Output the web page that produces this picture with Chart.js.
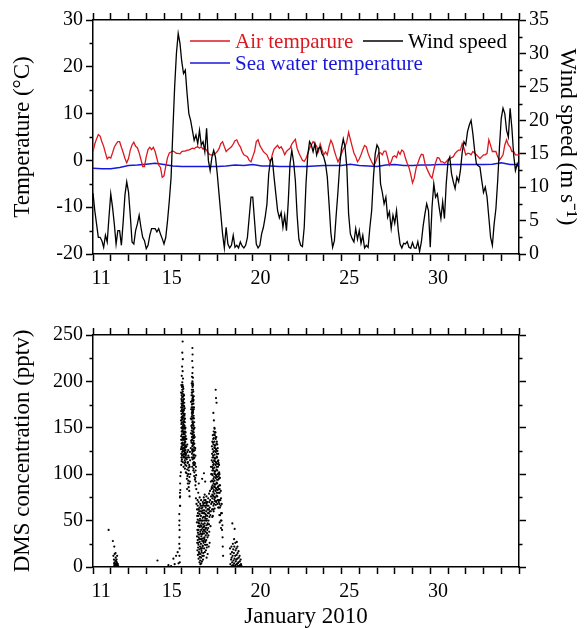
<!DOCTYPE html>
<html>
<head>
<meta charset="utf-8">
<script src="https://cdn.jsdelivr.net/npm/chart.js@4.4.1/dist/chart.umd.min.js"></script>
<style>
  html, body { margin: 0; padding: 0; background: #fff; }
  #wrap { position: relative; width: 588px; height: 628px; }
  canvas { position: absolute; left: 0; }
  #top { top: 0; }
  #bottom { top: 290px; }
</style>
</head>
<body>
<div id="wrap">
  <canvas id="top" width="588" height="290"></canvas>
  <canvas id="bottom" width="588" height="338"></canvas>
</div>
<script>
// day of January 2010; series sampled every 0.1 day from day 10
const dayLabels = [11, 15, 20, 25, 30];
const sampleStart = 10;
const sampleStep = 0.1;

// wind speed (m/s)
const windSpeed = [
  9.1, 6.5, 4.5, 2.5, 2.5, 2.0, 1.0, 2.8, 1.8, 5.5,
  9.0, 7.0, 4.5, 1.5, 3.5, 3.5, 1.3, 4.8, 8.8, 10.8,
  9.3, 5.8, 1.8, 1.5, 3.5, 4.5, 5.8, 4.0, 2.5, 2.0,
  0.8, 1.3, 2.8, 3.8, 3.8, 3.8, 3.3, 3.8, 3.0, 2.3,
  1.5, 2.5, 5.0, 8.0, 11.5, 18.5, 25.0, 30.0, 33.0, 31.5,
  28.8, 27.0, 27.5, 24.0, 21.0, 20.0, 18.5, 17.0, 17.8, 16.5,
  18.5, 16.3, 16.8, 15.3, 18.8, 14.0, 12.5, 14.5, 15.5, 14.5,
  12.0, 9.0, 6.0, 3.0, 0.9, 4.0, 1.5, 0.9, 1.3, 2.8,
  1.0, 1.3, 0.9, 1.8, 1.2, 0.9, 1.3, 2.5, 5.5, 8.5,
  8.5, 5.0, 1.5, 0.9, 1.3, 3.0, 4.0, 5.5, 7.5, 12.0,
  14.0, 14.3, 11.5, 9.0, 6.5, 5.4, 6.2, 4.0, 5.8, 3.5,
  7.8, 13.5, 15.5, 13.8, 11.0, 5.8, 2.2, 1.3, 1.1, 4.0,
  10.5, 14.8, 16.8, 16.3, 15.3, 16.5, 14.8, 15.8, 16.0, 15.0,
  14.5, 13.5, 11.5, 7.5, 3.2, 1.0, 2.0, 5.8, 9.3, 13.3,
  15.8, 17.2, 16.0, 13.0, 6.0, 3.0, 2.3, 1.8, 3.8, 2.2,
  3.5, 1.6, 2.8, 0.9, 1.3, 1.0, 4.0, 6.5, 11.5, 15.0,
  16.3, 15.8, 10.5, 9.2, 7.5, 8.5, 5.5, 6.3, 3.8, 5.8,
  4.6, 6.5, 3.5, 1.5, 0.9, 1.6, 1.5, 1.85, 1.0, 0.85,
  1.7, 0.9, 0.85, 1.85, 0.4, 1.8, 4.2, 6.0, 7.5, 6.5,
  1.0, 7.0, 10.5, 8.5, 9.0, 7.0, 5.3, 7.8, 5.3, 10.5,
  13.8, 14.5, 12.0, 10.8, 9.8, 11.5, 10.8, 12.5, 15.2, 16.8,
  16.3, 18.3, 19.3, 20.0, 18.0, 15.5, 13.5, 13.2, 13.0, 11.0,
  9.2, 10.0, 8.5, 5.5, 2.5, 1.3, 4.5, 6.8, 11.0, 16.0,
  20.3, 21.8, 21.0, 18.5, 17.5, 21.8, 18.8, 14.8, 12.5, 13.5,
  12.8
];

// air temperature (degC)
const airTemp = [
  1.9, 3.5, 4.6, 5.5, 5.2, 4.0, 3.0, 1.6, 0.3, 0.7,
  0.5, 1.6, 2.8, 3.5, 4.0, 4.0, 2.8, 1.7, 0.4, -0.5,
  0.4, 2.2, 3.3, 3.9, 3.0, 2.7, 1.6, 0.2, -1.3, -1.3,
  0.8, 2.3, 2.8, 2.3, 2.8, 1.9, 0.4, -1.0, -1.5, -3.6,
  -3.3, -1.2, 0.6, 1.6, 1.8, 2.0, 1.8, 1.5, 1.5, 1.4,
  1.9, 2.0, 2.0, 2.2, 2.2, 2.4, 2.6, 2.5, 2.8, 2.9,
  2.6, 2.9, 2.4, 2.6, 2.2, 1.5, 1.2, 1.2, 1.2, 1.5,
  1.9, 2.5, 3.6, 4.0, 2.9, 1.9, 2.3, 2.6, 2.9, 3.5,
  4.2, 4.4, 3.5, 2.9, 1.9, 1.2, 1.0, 0.8, 0.0, -0.3,
  0.8, 1.9, 4.0, 4.4, 3.2, 2.5, 1.9, 1.5, 1.2, 0.3,
  -0.3, 1.2, 2.4, 2.8, 3.2, 2.6, 2.9, 2.2, 1.2, 1.9,
  2.3, 2.6, 3.5, 4.0, 4.5, 2.6, 1.6, 0.8, 0.0, -0.2,
  0.4, 1.5, 2.6, 3.3, 4.0, 3.6, 3.0, 1.9, 3.5, 2.3,
  1.2, 1.8, 1.2, 3.0, 4.3, 3.5, 2.0, 0.8, -0.3, 0.5,
  1.5, 2.4, 3.0, 4.0, 6.0, 4.5, 3.0, 1.6, 0.8, -0.3,
  0.3, 1.2, 2.3, 3.2, 2.9, 1.5, 0.5, -0.3, -1.0, -0.6,
  0.5, 1.6, 1.6, 1.2, 2.0, 2.0, 0.6, -1.0, -0.3, 0.8,
  1.0, 0.6, 1.9, 1.3, 2.2, 1.9, 0.5, -0.6, -1.5, -3.0,
  -4.8, -3.8, -1.7, -0.6, 0.5, 1.3, 1.2, -0.6, -1.7, -2.5,
  -3.3, -3.8, -2.0, -0.5, 0.6, 0.5, -0.3, -0.3, -0.6, -0.3,
  0.2, 0.4, 0.6, 0.8, 1.5, 1.9, 2.2, 2.2, 3.6, 2.6,
  1.2, 1.5, 1.5, 1.2, 1.9, 1.6, 1.2, 0.8, 0.4, 0.8,
  1.2, 1.2, 1.5, 4.4, 3.2, 1.9, 1.9, 1.9, 0.8, 0.1,
  0.6, 1.2, 3.3, 4.4, 3.3, 2.9, 1.9, 1.9, 1.2, 1.2,
  1.2
];

// sea water temperature (degC), every 0.5 day from day 10
const seaStep = 0.5;
const seaTemp = [
  -1.7, -1.8, -1.8, -1.5, -1.1, -1.0, -0.8, -0.6, -0.9, -1.2,
  -1.3, -1.3, -1.3, -1.3, -1.3, -1.2, -1.0, -1.1, -0.9, -1.2,
  -1.2, -1.3, -1.3, -1.3, -1.3, -1.2, -1.1, -1.1, -1.1, -0.8,
  -1.1, -1.2, -1.3, -1.0, -0.9, -1.1, -1.1, -1.0, -1.0, -0.9,
  -0.9, -0.9, -0.9, -0.85, -0.85, -0.8, -0.5, -0.85, -0.9
];

// DMS concentration (pptv), [day, value]
const dmsEarly = [
  [10.88, 40], [11.12, 28], [11.2, 22], [11.15, 12], [11.18, 8], [11.22, 5], [11.25, 3],
  [11.28, 10], [11.3, 6], [11.32, 2], [11.35, 4], [11.27, 15], [11.24, 1], [11.2, 2],
  [11.33, 8], [11.38, 1], [11.4, 3], [11.42, 1], [11.3, 1], [11.36, 12], [11.26, 7],
  [11.22, 14], [11.19, 4], [11.34, 5], [11.29, 3],
  [13.63, 7], [14.25, 2], [14.53, 9], [14.68, 12], [14.77, 16], [14.82, 4], [14.6, 3], [14.4, 1],
  [14.86, 57], [14.87, 50], [14.86, 45], [14.88, 40], [14.87, 32], [14.86, 25], [14.88, 20],
  [14.87, 12], [14.9, 80], [14.9, 75], [14.89, 5], [14.91, 66]
];
const dmsPeakA = [
  [15.05, 243], [15.03, 231], [15.06, 224], [15.02, 216], [15.05, 211], [15.0, 206], [15.07, 203], [15.03, 199],
  [14.96, 188], [14.98, 181], [14.97, 172], [14.99, 165], [14.96, 158], [14.98, 150], [14.97, 141],
  [14.99, 133], [14.96, 127], [14.98, 118], [14.97, 110], [14.95, 102],
  [15.01, 194], [15.02, 187], [15.0, 179], [15.03, 176], [15.01, 170], [15.02, 162], [15.0, 156],
  [15.03, 149], [15.01, 143], [15.02, 137], [15.0, 130], [15.03, 124], [15.01, 116],
  [15.05, 196], [15.06, 189], [15.04, 183], [15.07, 178], [15.05, 172], [15.06, 166], [15.04, 160],
  [15.07, 153], [15.05, 147], [15.06, 140], [15.04, 134], [15.07, 128], [15.05, 121], [15.06, 113],
  [15.09, 192], [15.1, 186], [15.08, 180], [15.11, 174], [15.09, 168], [15.1, 161], [15.08, 155],
  [15.11, 149], [15.09, 143], [15.1, 137], [15.08, 131], [15.11, 125], [15.09, 118], [15.1, 108],
  [15.13, 185], [15.14, 177], [15.12, 169], [15.15, 163], [15.13, 157], [15.14, 150], [15.12, 144],
  [15.15, 139], [15.13, 132], [15.14, 126], [15.12, 119], [15.15, 112],
  [15.17, 171], [15.18, 160], [15.16, 152], [15.19, 146], [15.17, 140], [15.18, 134], [15.16, 128],
  [15.19, 121], [15.17, 115], [15.18, 106],
  [15.21, 150], [15.22, 141], [15.2, 135], [15.23, 129], [15.21, 123], [15.22, 117], [15.2, 110], [15.23, 102],
  [15.26, 138], [15.27, 130], [15.25, 122], [15.28, 116], [15.26, 109], [15.27, 101], [15.29, 95],
  [15.31, 132], [15.32, 124], [15.3, 118], [15.33, 112], [15.31, 105], [15.32, 98], [15.34, 90], [15.3, 84],
  [15.36, 126], [15.37, 120], [15.35, 113], [15.38, 107], [15.36, 100], [15.37, 93], [15.39, 86],
  [15.41, 118], [15.42, 110], [15.4, 104], [15.43, 97], [15.41, 90], [15.42, 82], [15.44, 76],
  [15.46, 124], [15.47, 115], [15.45, 108], [15.48, 100], [15.46, 92],
  [14.92, 98], [14.91, 90], [14.92, 83], [14.91, 76], [14.9, 66],
  [14.975, 196], [14.995, 185], [14.985, 176], [14.965, 168], [14.985, 161], [14.975, 154], [14.995, 146],
  [14.965, 137], [14.985, 129], [14.975, 122], [14.995, 114],
  [15.025, 191], [15.035, 183], [15.015, 174], [15.045, 168], [15.025, 159], [15.035, 151], [15.015, 146],
  [15.045, 139], [15.025, 133], [15.035, 127], [15.015, 120],
  [15.075, 194], [15.085, 184], [15.065, 176], [15.095, 170], [15.075, 163], [15.085, 157], [15.065, 151],
  [15.095, 145], [15.075, 138], [15.085, 132], [15.065, 125], [15.095, 121],
  [15.125, 181], [15.135, 173], [15.115, 165], [15.145, 159], [15.125, 153], [15.135, 146], [15.115, 140],
  [15.145, 134], [15.125, 128], [15.135, 122],
  [15.165, 165], [15.175, 156], [15.185, 149], [15.165, 143], [15.175, 137], [15.185, 130], [15.165, 124], [15.175, 118],
  [15.215, 145], [15.225, 138], [15.205, 131], [15.215, 126], [15.225, 120], [15.205, 113]
];
const dmsPeakB = [
  [15.6, 236], [15.61, 229], [15.59, 222], [15.62, 215], [15.6, 209], [15.63, 204],
  [15.52, 178], [15.53, 170], [15.51, 160], [15.54, 152], [15.52, 144], [15.53, 136], [15.51, 128],
  [15.56, 198], [15.57, 191], [15.55, 185], [15.58, 179], [15.56, 172], [15.57, 166], [15.55, 159],
  [15.58, 153], [15.56, 147], [15.57, 140], [15.55, 134], [15.58, 126], [15.56, 118],
  [15.6, 200], [15.61, 194], [15.59, 188], [15.62, 182], [15.6, 176], [15.61, 170], [15.59, 164],
  [15.62, 157], [15.6, 150], [15.61, 144], [15.59, 137], [15.62, 131], [15.6, 124], [15.61, 116], [15.59, 108],
  [15.64, 196], [15.65, 189], [15.63, 183], [15.66, 176], [15.64, 168], [15.65, 161], [15.63, 155],
  [15.66, 148], [15.64, 141], [15.65, 134], [15.63, 127], [15.66, 120], [15.64, 112], [15.65, 104],
  [15.68, 184], [15.69, 172], [15.67, 163], [15.7, 156], [15.68, 149], [15.69, 142], [15.67, 136],
  [15.7, 129], [15.68, 121], [15.69, 113], [15.67, 106], [15.7, 98],
  [15.72, 150], [15.73, 140], [15.71, 133], [15.74, 126], [15.72, 118], [15.73, 110], [15.71, 102], [15.74, 94],
  [15.76, 128], [15.77, 120], [15.75, 112], [15.78, 104], [15.76, 96], [15.77, 88],
  [15.8, 108], [15.81, 99], [15.79, 92], [15.82, 84], [15.8, 74], [15.83, 68],
  [15.575, 205], [15.585, 196], [15.565, 188], [15.595, 181], [15.575, 175], [15.585, 168], [15.565, 162],
  [15.595, 156], [15.575, 150], [15.585, 143], [15.565, 137], [15.595, 130], [15.575, 122],
  [15.625, 198], [15.635, 191], [15.615, 185], [15.645, 179], [15.625, 172], [15.635, 166], [15.615, 160],
  [15.645, 153], [15.625, 146], [15.635, 139], [15.615, 133], [15.645, 125], [15.625, 118],
  [15.665, 180], [15.675, 170], [15.685, 160], [15.665, 152], [15.675, 145], [15.685, 139], [15.665, 132],
  [15.675, 125], [15.685, 117], [15.665, 110]
];
const dmsLow = [
  [15.86, 62], [15.87, 55], [15.85, 48], [15.88, 40], [15.86, 33], [15.87, 26], [15.89, 72], [15.88, 18],
  [15.9, 66], [15.91, 58], [15.9, 51], [15.92, 44], [15.91, 37], [15.9, 29], [15.92, 21], [15.91, 13], [15.93, 80],
  [15.95, 70], [15.96, 62], [15.94, 55], [15.97, 47], [15.95, 40], [15.96, 32], [15.94, 24], [15.97, 16], [15.95, 9], [15.96, 90],
  [16.0, 64], [16.01, 57], [15.99, 50], [16.02, 43], [16.0, 35], [16.01, 27], [15.99, 19], [16.02, 11], [16.0, 5], [16.01, 75],
  [16.04, 68], [16.05, 60], [16.03, 52], [16.06, 45], [16.04, 38], [16.05, 30], [16.03, 22], [16.06, 14], [16.04, 7], [16.05, 3],
  [16.09, 72], [16.1, 63], [16.08, 55], [16.11, 47], [16.09, 40], [16.1, 33], [16.08, 25], [16.11, 18], [16.09, 10], [16.1, 4],
  [16.14, 66], [16.15, 58], [16.13, 50], [16.16, 42], [16.14, 35], [16.15, 28], [16.13, 20], [16.16, 12], [16.14, 6], [16.15, 95],
  [16.19, 70], [16.2, 61], [16.18, 53], [16.21, 46], [16.19, 38], [16.2, 31], [16.18, 23], [16.21, 15], [16.2, 8],
  [16.24, 75], [16.25, 66], [16.23, 58], [16.26, 50], [16.24, 43], [16.25, 36], [16.23, 28], [16.26, 20], [16.24, 12], [16.25, 101],
  [16.29, 78], [16.3, 69], [16.28, 61], [16.31, 54], [16.29, 47], [16.3, 40], [16.28, 32], [16.31, 24], [16.3, 16], [16.32, 92],
  [16.34, 72], [16.35, 64], [16.33, 57], [16.36, 50], [16.34, 42], [16.35, 34], [16.33, 27], [16.36, 18],
  [16.39, 76], [16.4, 68], [16.38, 60], [16.41, 52], [16.39, 45], [16.4, 37], [16.38, 29], [16.41, 21], [16.4, 10],
  [16.44, 70], [16.45, 62], [16.43, 55], [16.46, 47], [16.44, 40], [16.45, 32], [16.43, 24], [16.46, 14],
  [16.49, 74], [16.5, 66], [16.48, 58], [16.51, 50], [16.49, 42], [16.5, 34], [16.52, 22],
  [16.54, 79], [16.55, 70], [16.53, 62], [16.56, 54], [16.54, 46], [16.55, 38], [16.57, 26],
  [16.59, 82], [16.6, 72], [16.58, 64], [16.61, 56], [16.62, 44],
  [15.925, 62], [15.935, 48], [15.945, 35], [15.925, 26], [15.985, 60], [15.975, 44], [15.985, 30], [15.975, 14],
  [16.065, 66], [16.075, 50], [16.065, 36], [16.075, 20], [16.125, 60], [16.115, 44], [16.125, 30], [16.115, 16],
  [16.165, 64], [16.175, 50], [16.165, 36], [16.175, 22], [16.215, 68], [16.225, 54], [16.215, 40], [16.225, 26],
  [16.265, 72], [16.275, 58], [16.265, 44], [16.275, 30], [16.315, 66], [16.325, 52], [16.315, 38], [16.325, 28],
  [16.375, 70], [16.365, 56], [16.375, 42], [16.365, 24], [16.425, 66], [16.415, 50], [16.425, 36],
  [16.475, 62], [16.465, 46], [16.525, 58], [16.575, 60]
];
const dmsPeakD = [
  [16.91, 191], [16.93, 182], [16.96, 177], [16.78, 166], [16.81, 158], [16.84, 150],
  [16.65, 108], [16.66, 100], [16.64, 92], [16.67, 84], [16.65, 76], [16.66, 68], [16.64, 60],
  [16.7, 130], [16.71, 122], [16.69, 115], [16.72, 108], [16.7, 100], [16.71, 93], [16.69, 86],
  [16.72, 78], [16.7, 70], [16.71, 62], [16.72, 54],
  [16.75, 142], [16.76, 134], [16.74, 127], [16.77, 120], [16.75, 113], [16.76, 106], [16.74, 99],
  [16.77, 92], [16.75, 85], [16.76, 77], [16.74, 70], [16.77, 62], [16.75, 55],
  [16.8, 146], [16.81, 139], [16.79, 132], [16.82, 125], [16.8, 118], [16.81, 111], [16.79, 104],
  [16.82, 97], [16.8, 90], [16.81, 83], [16.79, 76], [16.82, 68], [16.8, 60],
  [16.85, 149], [16.86, 142], [16.84, 135], [16.87, 128], [16.85, 121], [16.86, 114], [16.84, 107],
  [16.87, 100], [16.85, 93], [16.86, 86], [16.84, 79], [16.87, 71], [16.85, 63],
  [16.9, 145], [16.91, 138], [16.89, 131], [16.92, 124], [16.9, 117], [16.91, 110], [16.89, 103],
  [16.92, 96], [16.9, 89], [16.91, 82], [16.89, 75], [16.92, 67],
  [16.95, 140], [16.96, 133], [16.94, 126], [16.97, 119], [16.95, 112], [16.96, 105], [16.94, 98],
  [16.97, 91], [16.95, 84], [16.96, 77], [16.94, 70],
  [17.0, 132], [17.01, 125], [16.99, 118], [17.02, 111], [17.0, 104], [17.01, 97], [16.99, 90],
  [17.02, 83], [17.0, 76], [17.01, 68],
  [17.05, 122], [17.06, 115], [17.04, 108], [17.07, 101], [17.05, 94], [17.06, 87], [17.04, 80], [17.07, 72], [17.05, 64],
  [17.1, 110], [17.11, 102], [17.09, 95], [17.12, 88], [17.1, 80], [17.11, 72], [17.09, 64], [17.12, 56],
  [17.15, 96], [17.16, 88], [17.14, 80], [17.17, 72], [17.15, 64], [17.16, 56], [17.14, 48],
  [17.2, 82], [17.21, 74], [17.19, 66], [17.22, 58], [17.2, 50], [17.21, 42],
  [17.25, 68], [17.26, 58], [17.24, 50], [17.27, 40], [17.3, 32], [17.31, 22], [17.33, 12], [17.29, 45],
  [16.725, 135], [16.735, 118], [16.725, 104], [16.735, 88], [16.725, 74],
  [16.775, 138], [16.785, 124], [16.775, 110], [16.785, 95], [16.775, 81], [16.785, 66],
  [16.825, 143], [16.835, 129], [16.825, 115], [16.835, 101], [16.825, 87], [16.835, 73],
  [16.875, 145], [16.865, 131], [16.875, 117], [16.865, 103], [16.875, 89], [16.865, 75],
  [16.925, 140], [16.935, 127], [16.925, 113], [16.935, 99], [16.925, 85], [16.935, 71],
  [16.975, 135], [16.985, 122], [16.975, 108], [16.985, 94], [16.975, 80],
  [17.025, 128], [17.035, 114], [17.025, 100], [17.035, 86], [17.025, 72],
  [17.075, 112], [17.085, 98], [17.075, 84], [17.085, 70], [17.125, 100], [17.135, 84], [17.125, 68]
];
const dmsLate = [
  [17.85, 47], [17.98, 41], [18.1, 27], [17.72, 20], [17.75, 14], [17.78, 8], [17.74, 3], [17.8, 22],
  [17.83, 16], [17.81, 10], [17.84, 5], [17.82, 1], [17.88, 25], [17.9, 19], [17.87, 12], [17.91, 7],
  [17.89, 2], [17.95, 30], [17.96, 22], [17.94, 15], [17.97, 9], [17.95, 4], [17.93, 1], [18.02, 26],
  [18.03, 18], [18.01, 12], [18.04, 6], [18.02, 2], [18.08, 20], [18.09, 13], [18.07, 8], [18.1, 3],
  [18.14, 22], [18.15, 15], [18.13, 9], [18.16, 4], [18.14, 1], [18.2, 17], [18.21, 10], [18.19, 5],
  [18.22, 1], [18.26, 12], [18.27, 6], [18.28, 2], [18.32, 8], [18.34, 3], [18.37, 1]
];

const airColor = 'rgb(220, 24, 32)';
const seaColor = 'rgb(24, 24, 220)';
const windColor = '#000';
const serif = "'Liberation Serif', 'Times New Roman', serif";

Chart.defaults.font.family = serif;
Chart.defaults.font.size = 20;
Chart.defaults.color = '#000';

const toSeries = (vals, step) => vals.map((v, i) => ({ x: sampleStart + i * step, y: v }));
const toPoints = list => list.map(p => ({ x: p[0], y: p[1] }));

// short ticks halfway between the labelled ones
const minorTicks = {
  id: 'minorTicks',
  afterDraw(chart, args, opts) {
    const ctx = chart.ctx;
    ctx.save();
    ctx.strokeStyle = '#000';
    ctx.lineWidth = 1.5;
    for (const [id, step] of Object.entries(opts)) {
      const s = chart.scales[id];
      if (!s) continue;
      const left = s.position === 'left';
      const x0 = left ? s.right : s.left;
      for (let v = s.min + step; v < s.max; v += step * 2) {
        const y = Math.round(s.getPixelForValue(v)) + 0.5;
        ctx.beginPath();
        ctx.moveTo(x0, y);
        ctx.lineTo(x0 + (left ? -3.5 : 3.5), y);
        ctx.stroke();
      }
    }
    ctx.restore();
  }
};

// legend laid out as in the figure
const legendBox = {
  id: 'legendBox',
  afterDraw(chart, args, opts) {
    if (!opts.items) return;
    const ctx = chart.ctx;
    const a = chart.chartArea;
    ctx.save();
    ctx.font = '21px ' + serif;
    ctx.textBaseline = 'middle';
    ctx.textAlign = 'left';
    opts.items.forEach(it => {
      const y = a.top + it.dy;
      ctx.strokeStyle = it.color;
      ctx.lineWidth = 1.4;
      ctx.beginPath();
      ctx.moveTo(a.left + it.dx, y);
      ctx.lineTo(a.left + it.dx + 40, y);
      ctx.stroke();
      ctx.fillStyle = it.color;
      ctx.fillText(it.text, a.left + it.dx + 45, y + 1);
    });
    ctx.restore();
  }
};

const frame = { display: true, color: '#000', width: 1.5 };
const tickGrid = { drawOnChartArea: false, color: '#000', tickColor: '#000', tickLength: 7, tickWidth: 1.5 };

function dayAxis(height) {
  return {
    type: 'linear', position: 'bottom', min: 10, max: 34,
    afterFit: s => { s.height = height; },
    border: frame, grid: tickGrid,
    ticks: {
      stepSize: 1, autoSkip: false, maxRotation: 0, align: 'end', padding: 6,
      callback: v => dayLabels.includes(v) ? String(v) : ''
    }
  };
}
function topAxis(height) {
  return {
    type: 'linear', position: 'top', min: 10, max: 34,
    afterFit: s => { s.height = height; },
    border: frame, grid: tickGrid,
    ticks: { stepSize: 1, display: false }
  };
}

const common = {
  responsive: false, animation: false, devicePixelRatio: 1, events: [],
  layout: { padding: 0 }
};

new Chart(document.getElementById('top'), {
  type: 'line',
  data: {
    datasets: [
      { label: 'Wind speed', data: toSeries(windSpeed, sampleStep), yAxisID: 'yw', xAxisID: 'x',
        borderColor: windColor, borderWidth: 1.3, pointRadius: 0, tension: 0 },
      { label: 'Air temparure', data: toSeries(airTemp, sampleStep), yAxisID: 'yt', xAxisID: 'x',
        borderColor: airColor, borderWidth: 1.3, pointRadius: 0, tension: 0 },
      { label: 'Sea water temperature', data: toSeries(seaTemp, seaStep), yAxisID: 'yt', xAxisID: 'x',
        borderColor: seaColor, borderWidth: 1.5, pointRadius: 0, tension: 0 }
    ]
  },
  options: {
    ...common,
    scales: {
      x: dayAxis(36),
      xTop: topAxis(20),
      yt: {
        type: 'linear', position: 'left', min: -20, max: 30,
        afterFit: s => { s.width = 93; },
        border: frame, grid: tickGrid,
        ticks: { stepSize: 10, padding: 3 },
        title: { display: true, text: 'Temperature (°C)', font: { size: 23, lineHeight: 1 }, padding: { top: 11, bottom: 0 } }
      },
      yw: {
        type: 'linear', position: 'right', min: 0, max: 35,
        afterFit: s => { s.width = 69; },
        border: frame, grid: tickGrid,
        ticks: { stepSize: 5, padding: 3 },
        title: { display: true, text: 'Wind speed (m s⁻¹)', font: { size: 23, lineHeight: 1 }, padding: { top: 9, bottom: 0 } }
      }
    },
    plugins: {
      legend: { display: false },
      tooltip: { enabled: false },
      minorTicks: { yt: 5, yw: 2.5 },
      legendBox: {
        items: [
          { text: 'Air temparure', color: airColor, dx: 97, dy: 21 },
          { text: 'Sea water temperature', color: seaColor, dx: 97, dy: 43 },
          { text: 'Wind speed', color: windColor, dx: 270, dy: 21 }
        ]
      }
    }
  },
  plugins: [minorTicks, legendBox]
});

new Chart(document.getElementById('bottom'), {
  type: 'scatter',
  data: {
    datasets: [{
      label: 'DMS',
      data: toPoints([...dmsEarly, ...dmsPeakA, ...dmsPeakB, ...dmsLow, ...dmsPeakD, ...dmsLate]),
      xAxisID: 'x', yAxisID: 'y',
      backgroundColor: '#000', borderWidth: 0, pointRadius: 1.1
    }]
  },
  options: {
    ...common,
    scales: {
      x: {
        ...dayAxis(61),
        title: { display: true, text: 'January 2010', font: { size: 23, lineHeight: 1 }, padding: { top: 0, bottom: 0 } }
      },
      xTop: topAxis(45),
      y: {
        type: 'linear', position: 'left', min: 0, max: 250,
        afterFit: s => { s.width = 93; },
        border: frame, grid: tickGrid,
        ticks: { stepSize: 50, padding: 3 },
        title: { display: true, text: 'DMS concentration (pptv)', font: { size: 23, lineHeight: 1 }, padding: { top: 11, bottom: 0 } }
      },
      yRight: {
        type: 'linear', position: 'right', min: 0, max: 250,
        afterFit: s => { s.width = 69; },
        border: frame, grid: tickGrid,
        ticks: { stepSize: 50, display: false }
      }
    },
    plugins: {
      legend: { display: false },
      tooltip: { enabled: false },
      minorTicks: { y: 25, yRight: 25 }
    }
  },
  plugins: [minorTicks]
});
</script>
</body>
</html>
